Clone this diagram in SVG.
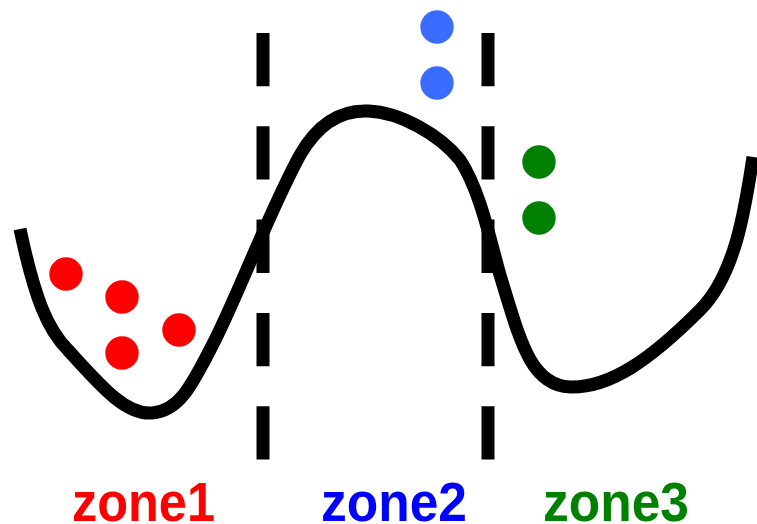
<svg xmlns="http://www.w3.org/2000/svg" width="757" height="524" viewBox="0 0 757 524">
  <style>
    .divider { stroke: #000; stroke-width: 13; stroke-dasharray: 53.3 40; fill: none; }
    .curve { stroke: #000; stroke-width: 13; fill: none; stroke-linejoin: round; }
    .label { font-family: "Liberation Sans", Arial, sans-serif; font-weight: bold; font-size: 56px; }
  </style>
  <rect width="757" height="524" fill="#fff"/>

  <!-- zone boundaries -->
  <g id="dividers">
    <line class="divider" x1="263" y1="33" x2="263" y2="460"/>
    <line class="divider" x1="488" y1="33" x2="488" y2="460"/>
  </g>

  <!-- potential energy landscape -->
  <g id="landscape">
    <path class="curve" d="M20,229 C35,300 48,330 68,350 C100,385 125,415 152,413 C178,411 190,390 215,340 C240,290 270,210 300,155 C320,120 345,110 368,111 C400,112 440,135 460,160 C480,190 490,240 500,275 C520,340 530,385 570,387 C610,388 650,360 700,310 C735,275 745,210 753,157"/>
  </g>

  <!-- particles -->
  <g id="zone1-particles" fill="#ff0000">
    <circle cx="66" cy="274" r="16.7"/>
    <circle cx="122" cy="297" r="16.7"/>
    <circle cx="122" cy="353" r="16.7"/>
    <circle cx="179" cy="330" r="16.7"/>
  </g>
  <g id="zone2-particles" fill="#3a6cff">
    <circle cx="437" cy="27" r="16.7"/>
    <circle cx="437" cy="83" r="16.7"/>
  </g>
  <g id="zone3-particles" fill="#008000">
    <circle cx="539" cy="162" r="16.7"/>
    <circle cx="539" cy="218" r="16.7"/>
  </g>

  <!-- zone labels -->
  <g id="labels" class="label">
    <text x="72" y="521" fill="#ff0000" textLength="143" lengthAdjust="spacingAndGlyphs">zone1</text>
    <text x="321" y="521" fill="#0000ff" textLength="146" lengthAdjust="spacingAndGlyphs">zone2</text>
    <text x="543" y="521" fill="#008000" textLength="146" lengthAdjust="spacingAndGlyphs">zone3</text>
  </g>
</svg>
